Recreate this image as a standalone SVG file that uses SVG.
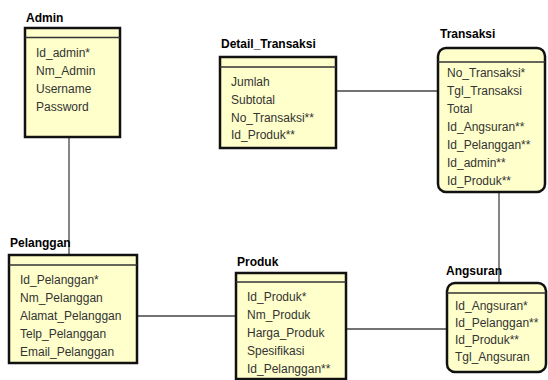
<svg xmlns="http://www.w3.org/2000/svg" width="548" height="380" viewBox="0 0 548 380">
<style>
.box{fill:#ffffcc;stroke:#111;stroke-width:2.5}
.sep{stroke:#333;stroke-width:1.5}
.title{font-family:"Liberation Sans",Arial,sans-serif;font-size:12px;font-weight:bold;fill:#000}
.attr{font-family:"Liberation Sans",Arial,sans-serif;font-size:12px;fill:#333}
.conn{stroke:#444;stroke-width:1.3;fill:none}
</style>
<rect width="548" height="380" fill="#fff"/>
<g id="connectors">
<line class="conn" x1="69" y1="137" x2="69" y2="255"/>
<line class="conn" x1="137" y1="316" x2="236" y2="316"/>
<line class="conn" x1="346" y1="329" x2="447" y2="329"/>
<line class="conn" x1="336" y1="91" x2="438" y2="91"/>
<line class="conn" x1="499" y1="192" x2="499" y2="283"/>
</g>
<g id="admin">
<text class="title" x="26" y="22">Admin</text>
<rect class="box" x="25" y="28" width="95" height="109"/>
<line class="sep" x1="25" y1="37.5" x2="120" y2="37.5"/>
<text class="attr" x="36" y="57">Id_admin*</text>
<text class="attr" x="36" y="75">Nm_Admin</text>
<text class="attr" x="36" y="93">Username</text>
<text class="attr" x="36" y="111">Password</text>
</g>
<g id="detail_transaksi">
<text class="title" x="221" y="48">Detail_Transaksi</text>
<rect class="box" x="220" y="57" width="116" height="91"/>
<line class="sep" x1="220" y1="67" x2="336" y2="67"/>
<text class="attr" x="231" y="86">Jumlah</text>
<text class="attr" x="231" y="104">Subtotal</text>
<text class="attr" x="231" y="122">No_Transaksi**</text>
<text class="attr" x="231" y="139">Id_Produk**</text>
</g>
<g id="transaksi">
<text class="title" x="440" y="38">Transaksi</text>
<rect class="box" x="438" y="48" width="107" height="144" rx="8" ry="8"/>
<line class="sep" x1="438" y1="62" x2="545" y2="62"/>
<text class="attr" x="447" y="77">No_Transaksi*</text>
<text class="attr" x="447" y="95">Tgl_Transaksi</text>
<text class="attr" x="447" y="113">Total</text>
<text class="attr" x="447" y="131">Id_Angsuran**</text>
<text class="attr" x="447" y="149">Id_Pelanggan**</text>
<text class="attr" x="447" y="167">Id_admin**</text>
<text class="attr" x="447" y="185">Id_Produk**</text>
</g>
<g id="pelanggan">
<text class="title" x="10" y="247">Pelanggan</text>
<rect class="box" x="9" y="255" width="128" height="108"/>
<line class="sep" x1="9" y1="265" x2="137" y2="265"/>
<text class="attr" x="20" y="284">Id_Pelanggan*</text>
<text class="attr" x="20" y="302">Nm_Pelanggan</text>
<text class="attr" x="20" y="320">Alamat_Pelanggan</text>
<text class="attr" x="20" y="338">Telp_Pelanggan</text>
<text class="attr" x="20" y="356">Email_Pelanggan</text>
</g>
<g id="produk">
<text class="title" x="237" y="266">Produk</text>
<rect class="box" x="236" y="273" width="110" height="106"/>
<line class="sep" x1="236" y1="282" x2="346" y2="282"/>
<text class="attr" x="247" y="301">Id_Produk*</text>
<text class="attr" x="247" y="319">Nm_Produk</text>
<text class="attr" x="247" y="337">Harga_Produk</text>
<text class="attr" x="247" y="355">Spesifikasi</text>
<text class="attr" x="247" y="373">Id_Pelanggan**</text>
</g>
<g id="angsuran">
<text class="title" x="446" y="275">Angsuran</text>
<rect class="box" x="447" y="283" width="99" height="89" rx="8" ry="8"/>
<line class="sep" x1="447" y1="293" x2="546" y2="293"/>
<text class="attr" x="455" y="310">Id_Angsuran*</text>
<text class="attr" x="455" y="327">Id_Pelanggan**</text>
<text class="attr" x="455" y="344">Id_Produk**</text>
<text class="attr" x="455" y="361">Tgl_Angsuran</text>
</g>
</svg>
